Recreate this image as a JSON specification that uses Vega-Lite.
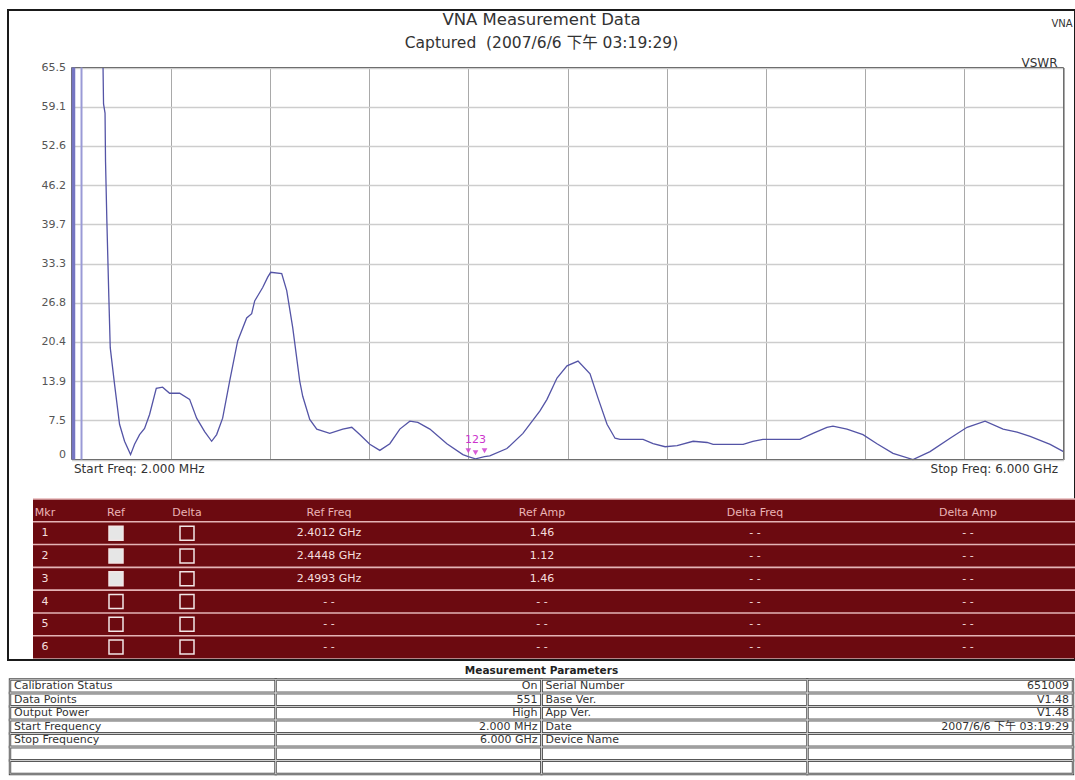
{
  "$schema": "https://vega.github.io/schema/vega-lite/v6.json",
  "width": 1067,
  "height": 650,
  "autosize": {"type": "none"},
  "padding": {"left": 8, "top": 10, "right": 0, "bottom": 120},
  "background": "white",
  "config": {
    "view": {"stroke": "#1a1a1a", "strokeWidth": 2},
    "font": "DejaVu Sans"
  },
  "title": {
    "text": "VNA Measurement Data",
    "subtitle": "Captured\u00a0 (2007/6/6 下午 03:19:29)",
    "anchor": "middle",
    "frame": "group",
    "offset": -41.5,
    "font": "DejaVu Sans",
    "fontSize": 16.5,
    "fontWeight": "normal",
    "color": "#333333",
    "subtitleFont": "DejaVu Sans, Noto Sans CJK TC",
    "subtitleFontSize": 15.5,
    "subtitleColor": "#333333",
    "subtitlePadding": 7.2
  },
  "datasets": {
    "curve": [
      {"f": 0.1927, "v": 65.5}, {"f": 0.1957, "v": 59.5}, {"f": 0.2048, "v": 58.0}, {"f": 0.2078, "v": 50.0},
      {"f": 0.2157, "v": 40.4}, {"f": 0.2278, "v": 27.7}, {"f": 0.2362, "v": 19.4}, {"f": 0.2622, "v": 13.4},
      {"f": 0.2925, "v": 6.8}, {"f": 0.3228, "v": 4.0}, {"f": 0.3591, "v": 1.8}, {"f": 0.3833, "v": 3.5},
      {"f": 0.4136, "v": 5.1}, {"f": 0.4438, "v": 6.1}, {"f": 0.4741, "v": 8.4}, {"f": 0.5146, "v": 12.7},
      {"f": 0.5528, "v": 12.9}, {"f": 0.5952, "v": 11.9}, {"f": 0.6557, "v": 11.9}, {"f": 0.7162, "v": 10.9},
      {"f": 0.7586, "v": 7.8}, {"f": 0.807, "v": 5.6}, {"f": 0.8494, "v": 4.0}, {"f": 0.8796, "v": 5.1},
      {"f": 0.9159, "v": 7.8}, {"f": 0.9583, "v": 13.9}, {"f": 1.0067, "v": 20.5}, {"f": 1.0612, "v": 24.3},
      {"f": 1.0914, "v": 25.0}, {"f": 1.1096, "v": 27.1}, {"f": 1.158, "v": 29.3}, {"f": 1.1883, "v": 31.0},
      {"f": 1.2064, "v": 31.8}, {"f": 1.273, "v": 31.6}, {"f": 1.3033, "v": 28.8}, {"f": 1.3396, "v": 22.7},
      {"f": 1.382, "v": 13.9}, {"f": 1.4001, "v": 11.4}, {"f": 1.4425, "v": 7.6}, {"f": 1.4849, "v": 6.0},
      {"f": 1.5635, "v": 5.3}, {"f": 1.6422, "v": 6.0}, {"f": 1.6967, "v": 6.3}, {"f": 1.7451, "v": 5.1},
      {"f": 1.8056, "v": 3.5}, {"f": 1.8662, "v": 2.5}, {"f": 1.9267, "v": 3.6}, {"f": 1.9872, "v": 6.0},
      {"f": 2.0477, "v": 7.3}, {"f": 2.0962, "v": 7.1}, {"f": 2.1688, "v": 6.0}, {"f": 2.2717, "v": 3.6},
      {"f": 2.3685, "v": 1.8}, {"f": 2.4012, "v": 1.46}, {"f": 2.4448, "v": 1.12}, {"f": 2.4993, "v": 1.46},
      {"f": 2.531, "v": 1.6}, {"f": 2.6348, "v": 2.8}, {"f": 2.7316, "v": 5.3}, {"f": 2.8345, "v": 9.0},
      {"f": 2.877, "v": 10.9}, {"f": 2.9375, "v": 14.4}, {"f": 2.998, "v": 16.4}, {"f": 3.0646, "v": 17.2},
      {"f": 3.1372, "v": 15.1}, {"f": 3.1856, "v": 11.1}, {"f": 3.2401, "v": 6.8}, {"f": 3.2885, "v": 4.5},
      {"f": 3.3188, "v": 4.3}, {"f": 3.458, "v": 4.3}, {"f": 3.5185, "v": 3.6}, {"f": 3.5911, "v": 3.1},
      {"f": 3.6638, "v": 3.3}, {"f": 3.7606, "v": 4.0}, {"f": 3.8453, "v": 3.8}, {"f": 3.8817, "v": 3.5},
      {"f": 4.0632, "v": 3.5}, {"f": 4.1218, "v": 4.0}, {"f": 4.1823, "v": 4.3}, {"f": 4.4062, "v": 4.3},
      {"f": 4.4849, "v": 5.3}, {"f": 4.5696, "v": 6.3}, {"f": 4.6059, "v": 6.5}, {"f": 4.6907, "v": 6.0},
      {"f": 4.7875, "v": 5.1}, {"f": 4.8722, "v": 3.6}, {"f": 4.9691, "v": 2.0}, {"f": 5.0901, "v": 1.0},
      {"f": 5.193, "v": 2.3}, {"f": 5.3141, "v": 4.5}, {"f": 5.417, "v": 6.3}, {"f": 5.5259, "v": 7.3},
      {"f": 5.6349, "v": 6.0}, {"f": 5.7196, "v": 5.5}, {"f": 5.7983, "v": 4.8}, {"f": 5.9193, "v": 3.5},
      {"f": 6.0, "v": 2.3}
    ],
    "bands": [{"f": 0.0141}, {"f": 0.0625}],
    "markers": [
      {"f": 2.4012, "v": 1.46, "m": "1"},
      {"f": 2.4448, "v": 1.12, "m": "2"},
      {"f": 2.4993, "v": 1.46, "m": "3"}
    ],
    "mkrTable": [
      {"row": "h", "Mkr": "Mkr", "Ref": "Ref", "Delta": "Delta", "Ref Freq": "Ref Freq", "Ref Amp": "Ref Amp", "Delta Freq": "Delta Freq", "Delta Amp": "Delta Amp"},
      {"row": "1", "Mkr": "1", "Ref": "on", "Delta": "off", "Ref Freq": "2.4012 GHz", "Ref Amp": "1.46", "Delta Freq": "- -", "Delta Amp": "- -"},
      {"row": "2", "Mkr": "2", "Ref": "on", "Delta": "off", "Ref Freq": "2.4448 GHz", "Ref Amp": "1.12", "Delta Freq": "- -", "Delta Amp": "- -"},
      {"row": "3", "Mkr": "3", "Ref": "on", "Delta": "off", "Ref Freq": "2.4993 GHz", "Ref Amp": "1.46", "Delta Freq": "- -", "Delta Amp": "- -"},
      {"row": "4", "Mkr": "4", "Ref": "off", "Delta": "off", "Ref Freq": "- -", "Ref Amp": "- -", "Delta Freq": "- -", "Delta Amp": "- -"},
      {"row": "5", "Mkr": "5", "Ref": "off", "Delta": "off", "Ref Freq": "- -", "Ref Amp": "- -", "Delta Freq": "- -", "Delta Amp": "- -"},
      {"row": "6", "Mkr": "6", "Ref": "off", "Delta": "off", "Ref Freq": "- -", "Ref Amp": "- -", "Delta Freq": "- -", "Delta Amp": "- -"}
    ],
    "params": [
      {"r": "r1", "c1": "Calibration Status", "c2": "On", "c3": "Serial Number", "c4": "651009"},
      {"r": "r2", "c1": "Data Points", "c2": "551", "c3": "Base Ver.", "c4": "V1.48"},
      {"r": "r3", "c1": "Output Power", "c2": "High", "c3": "App Ver.", "c4": "V1.48"},
      {"r": "r4", "c1": "Start Frequency", "c2": "2.000 MHz", "c3": "Date", "c4": "2007/6/6 下午 03:19:29"},
      {"r": "r5", "c1": "Stop Frequency", "c2": "6.000 GHz", "c3": "Device Name", "c4": ""},
      {"r": "r6", "c1": "", "c2": "", "c3": "", "c4": ""},
      {"r": "r7", "c1": "", "c2": "", "c3": "", "c4": ""}
    ]
  },
  "resolve": {"scale": {"x": "independent", "y": "independent"}, "axis": {"x": "independent", "y": "independent"}},
  "layer": [
    {
      "data": {"name": "curve"},
      "mark": {"type": "line", "color": "#5454a6", "strokeWidth": 1.3},
      "encoding": {
        "x": {
          "field": "f", "type": "quantitative",
          "scale": {"type": "linear", "domain": [0.002, 6], "range": [63.5, 1055.5], "nice": false, "zero": false},
          "axis": {
            "orient": "top",
            "values": [0.002, 0.6018, 1.2016, 1.8014, 2.4012, 3.001, 3.6008, 4.2006, 4.8004, 5.4002, 6],
            "offset": -458.5,
            "grid": true, "gridColor": "#a9a9a9", "gridWidth": 1,
            "domain": false, "ticks": false,
            "labelExpr": "datum.value < 0.1 ? 'Start Freq: 2.000 MHz' : (datum.value > 5.9 ? 'Stop Freq: 6.000 GHz' : '')",
            "labelAlign": {"condition": {"test": "datum.value < 0.1", "value": "left"}, "value": "right"},
            "labelOffset": {"condition": [{"test": "datum.value > 5.9", "value": -6}, {"test": "datum.value < 0.1", "value": 2}], "value": 0},
            "labelBaseline": "middle",
            "labelPadding": 0, "labelFont": "DejaVu Sans", "labelFontSize": 12, "labelColor": "#333333",
            "labelOverlap": false, "labelBound": false, "labelFlush": false,
            "title": "VNA", "titleX": 1043, "titleY": -442.5, "titleAlign": "left", "titleBaseline": "alphabetic",
            "titleAngle": 0, "titleFont": "DejaVu Sans", "titleFontSize": 10, "titleFontWeight": "normal", "titleColor": "#333333"
          }
        },
        "y": {
          "field": "v", "type": "quantitative",
          "scale": {"type": "linear", "domain": [1, 65.5], "range": [449.5, 57.5], "nice": false, "zero": false},
          "axis": {
            "values": [1, 7.45, 13.9, 20.35, 26.8, 33.25, 39.7, 46.15, 52.6, 59.05, 65.5],
            "offset": -63.5,
            "grid": true, "gridColor": "#cdcdcd", "gridWidth": 1.5,
            "domain": false, "ticks": false,
            "labelExpr": "datum.value < 2 ? '0' : format(datum.value + 0.0001, '.1f')",
            "labelBaseline": {"condition": {"test": "datum.value < 2", "value": "bottom"}, "value": "middle"},
            "labelPadding": 6, "labelFont": "DejaVu Sans", "labelFontSize": 11, "labelColor": "#555555",
            "labelOverlap": false, "labelBound": false, "labelFlush": false,
            "title": "VSWR", "titleX": 985.5, "titleY": 56, "titleAlign": "right", "titleBaseline": "alphabetic",
            "titleAngle": 0, "titleFont": "DejaVu Sans", "titleFontSize": 12, "titleFontWeight": "normal", "titleColor": "#333333"
          }
        }
      }
    },
    {
      "data": {"values": [{}]},
      "mark": {"type": "rect", "fillOpacity": 0, "stroke": "#6e6e6e", "strokeWidth": 1},
      "encoding": {
        "x": {"datum": 0.002, "type": "quantitative", "scale": {"type": "linear", "domain": [0.002, 6], "range": [63.5, 1055.5], "nice": false, "zero": false}, "axis": null},
        "x2": {"datum": 6},
        "y": {"datum": 1, "type": "quantitative", "scale": {"type": "linear", "domain": [1, 65.5], "range": [449.5, 57.5], "nice": false, "zero": false}, "axis": null},
        "y2": {"datum": 65.5}
      }
    },
    {
      "data": {"name": "bands"},
      "mark": {"type": "rule"},
      "encoding": {
        "x": {"field": "f", "type": "quantitative", "scale": {"type": "linear", "domain": [0.002, 6], "range": [63.5, 1055.5], "nice": false, "zero": false}, "axis": null},
        "y": {"datum": 1, "type": "quantitative", "scale": {"type": "linear", "domain": [1, 65.5], "range": [449.5, 57.5], "nice": false, "zero": false}, "axis": null},
        "y2": {"datum": 65.5},
        "color": {"condition": {"test": "datum.f < 0.03", "value": "#7676c2"}, "value": "#9a9ad6"},
        "strokeWidth": {"condition": {"test": "datum.f < 0.03", "value": 3.5}, "value": 2}
      }
    },
    {
      "data": {"name": "markers"},
      "mark": {"type": "point", "shape": "triangle-down", "size": 32, "filled": true, "color": "#d040d0", "opacity": 0.85, "yOffset": -6},
      "encoding": {
        "x": {"field": "f", "type": "quantitative", "scale": {"type": "linear", "domain": [0.002, 6], "range": [63.5, 1055.5], "nice": false, "zero": false}, "axis": null},
        "y": {"field": "v", "type": "quantitative", "scale": {"type": "linear", "domain": [1, 65.5], "range": [449.5, 57.5], "nice": false, "zero": false}, "axis": null}
      }
    },
    {
      "data": {"values": [{"f": 2.4448, "v": 1.12, "label": "123"}]},
      "mark": {"type": "text", "dy": -19, "color": "#cc33cc", "fontSize": 11, "font": "DejaVu Sans"},
      "encoding": {
        "x": {"field": "f", "type": "quantitative", "scale": {"type": "linear", "domain": [0.002, 6], "range": [63.5, 1055.5], "nice": false, "zero": false}, "axis": null},
        "y": {"field": "v", "type": "quantitative", "scale": {"type": "linear", "domain": [1, 65.5], "range": [449.5, 57.5], "nice": false, "zero": false}, "axis": null},
        "text": {"field": "label"}
      }
    },
    {
      "data": {"name": "mkrTable"},
      "mark": {"type": "rect", "color": "#6c0a10"},
      "encoding": {
        "x": {"datum": 0, "type": "quantitative", "scale": {"type": "linear", "domain": [0, 1], "range": [25, 1067], "nice": false, "zero": false}, "axis": null},
        "x2": {"datum": 1},
        "y": {"field": "row", "type": "nominal", "scale": {"type": "band", "domain": ["h", "1", "2", "3", "4", "5", "6"], "range": [489, 648.5], "paddingInner": 0, "paddingOuter": 0}, "axis": null}
      }
    },
    {
      "data": {"name": "mkrTable"},
      "mark": {"type": "rule", "color": "#e4b4b6", "strokeWidth": 1.6},
      "encoding": {
        "x": {"datum": 0, "type": "quantitative", "scale": {"type": "linear", "domain": [0, 1], "range": [25, 1067], "nice": false, "zero": false}, "axis": null},
        "x2": {"datum": 1},
        "y": {"field": "row", "type": "nominal", "bandPosition": 0, "scale": {"type": "band", "domain": ["h", "1", "2", "3", "4", "5", "6"], "range": [489, 648.5], "paddingInner": 0, "paddingOuter": 0}, "axis": null}
      }
    },
    {
      "data": {"name": "mkrTable"},
      "transform": [
        {"fold": ["Mkr", "Ref Freq", "Ref Amp", "Delta Freq", "Delta Amp"], "as": ["col", "t"]},
        {"filter": "datum.row !== 'h'"}
      ],
      "mark": {"type": "text", "fontSize": 11, "font": "DejaVu Sans", "color": "#f4dede"},
      "encoding": {
        "x": {"field": "col", "type": "nominal", "scale": {"type": "point", "domain": ["Mkr", "Ref", "Delta", "_a", "Ref Freq", "_b", "_c", "Ref Amp", "_d", "_e", "Delta Freq", "_f", "_g", "Delta Amp"], "range": [37, 960], "padding": 0}, "axis": null},
        "y": {"field": "row", "type": "nominal", "scale": {"type": "band", "domain": ["h", "1", "2", "3", "4", "5", "6"], "range": [489, 648.5], "paddingInner": 0, "paddingOuter": 0}, "axis": null},
        "text": {"field": "t"}
      }
    },
    {
      "data": {"name": "mkrTable"},
      "transform": [
        {"fold": ["Mkr", "Ref", "Delta", "Ref Freq", "Ref Amp", "Delta Freq", "Delta Amp"], "as": ["col", "t"]},
        {"filter": "datum.row === 'h'"}
      ],
      "mark": {"type": "text", "fontSize": 11, "font": "DejaVu Sans", "color": "#eab4b6", "dy": 3},
      "encoding": {
        "x": {"field": "col", "type": "nominal", "scale": {"type": "point", "domain": ["Mkr", "Ref", "Delta", "_a", "Ref Freq", "_b", "_c", "Ref Amp", "_d", "_e", "Delta Freq", "_f", "_g", "Delta Amp"], "range": [37, 960], "padding": 0}, "axis": null},
        "y": {"field": "row", "type": "nominal", "scale": {"type": "band", "domain": ["h", "1", "2", "3", "4", "5", "6"], "range": [489, 648.5], "paddingInner": 0, "paddingOuter": 0}, "axis": null},
        "text": {"field": "t"}
      }
    },
    {
      "data": {"name": "mkrTable"},
      "transform": [
        {"fold": ["Ref", "Delta"], "as": ["col", "state"]},
        {"filter": "datum.row !== 'h'"}
      ],
      "mark": {"type": "point", "shape": "square", "size": 196, "filled": true, "stroke": "#f2e6e6", "strokeWidth": 1.5, "opacity": 1},
      "encoding": {
        "x": {"field": "col", "type": "nominal", "scale": {"type": "point", "domain": ["Mkr", "Ref", "Delta", "_a", "Ref Freq", "_b", "_c", "Ref Amp", "_d", "_e", "Delta Freq", "_f", "_g", "Delta Amp"], "range": [37, 960], "padding": 0}, "axis": null},
        "y": {"field": "row", "type": "nominal", "scale": {"type": "band", "domain": ["h", "1", "2", "3", "4", "5", "6"], "range": [489, 648.5], "paddingInner": 0, "paddingOuter": 0}, "axis": null},
        "fill": {"condition": {"test": "datum.state === 'on'", "value": "#e6e6e6"}, "value": "#6c0a10"}
      }
    },
    {
      "data": {"name": "params"},
      "transform": [{"fold": ["c1", "c2", "c3", "c4"], "as": ["c", "t"]}],
      "mark": {"type": "rect", "fillOpacity": 0, "stroke": "#4d4d4d", "strokeWidth": 2.4},
      "encoding": {
        "x": {"field": "c", "type": "nominal", "scale": {"type": "band", "domain": ["c1", "c2", "c3", "c4"], "range": [2, 1065], "paddingInner": 0, "paddingOuter": 0}, "axis": null},
        "y": {"field": "r", "type": "nominal", "scale": {"type": "band", "domain": ["r0", "r1", "r2", "r3", "r4", "r5", "r6", "r7"], "range": [656, 764], "paddingInner": 0, "paddingOuter": 0}, "axis": null}
      }
    },
    {
      "data": {"name": "params"},
      "transform": [{"fold": ["c1", "c2", "c3", "c4"], "as": ["c", "t"]}],
      "mark": {"type": "rect", "fillOpacity": 0, "stroke": "#dcdcdc", "strokeWidth": 0.7},
      "encoding": {
        "x": {"field": "c", "type": "nominal", "scale": {"type": "band", "domain": ["c1", "c2", "c3", "c4"], "range": [2, 1065], "paddingInner": 0, "paddingOuter": 0}, "axis": null},
        "y": {"field": "r", "type": "nominal", "scale": {"type": "band", "domain": ["r0", "r1", "r2", "r3", "r4", "r5", "r6", "r7"], "range": [656, 764], "paddingInner": 0, "paddingOuter": 0}, "axis": null}
      }
    },
    {
      "data": {"name": "params"},
      "transform": [
        {"fold": ["c1", "c2", "c3", "c4"], "as": ["c", "t"]},
        {"filter": "datum.c === 'c1' || datum.c === 'c3'"}
      ],
      "mark": {"type": "text", "align": "left", "dx": 4, "fontSize": 11, "font": "DejaVu Sans", "color": "#333333"},
      "encoding": {
        "x": {"field": "c", "type": "nominal", "bandPosition": 0, "scale": {"type": "band", "domain": ["c1", "c2", "c3", "c4"], "range": [2, 1065], "paddingInner": 0, "paddingOuter": 0}, "axis": null},
        "y": {"field": "r", "type": "nominal", "scale": {"type": "band", "domain": ["r0", "r1", "r2", "r3", "r4", "r5", "r6", "r7"], "range": [656, 764], "paddingInner": 0, "paddingOuter": 0}, "axis": null},
        "text": {"field": "t"}
      }
    },
    {
      "data": {"name": "params"},
      "transform": [
        {"fold": ["c1", "c2", "c3", "c4"], "as": ["c", "t"]},
        {"filter": "datum.c === 'c2' || datum.c === 'c4'"}
      ],
      "mark": {"type": "text", "align": "right", "dx": -4, "fontSize": 11, "font": "DejaVu Sans, Noto Sans CJK TC", "color": "#333333"},
      "encoding": {
        "x": {"field": "c", "type": "nominal", "bandPosition": 1, "scale": {"type": "band", "domain": ["c1", "c2", "c3", "c4"], "range": [2, 1065], "paddingInner": 0, "paddingOuter": 0}, "axis": null},
        "y": {"field": "r", "type": "nominal", "scale": {"type": "band", "domain": ["r0", "r1", "r2", "r3", "r4", "r5", "r6", "r7"], "range": [656, 764], "paddingInner": 0, "paddingOuter": 0}, "axis": null},
        "text": {"field": "t"}
      }
    },
    {
      "data": {"values": [{"r": "r0", "c": "c2", "t": "Measurement Parameters"}]},
      "mark": {"type": "text", "dy": -2, "fontSize": 10.5, "fontWeight": "bold", "font": "DejaVu Sans", "color": "#222222"},
      "encoding": {
        "x": {"field": "c", "type": "nominal", "bandPosition": 1, "scale": {"type": "band", "domain": ["c1", "c2", "c3", "c4"], "range": [2, 1065], "paddingInner": 0, "paddingOuter": 0}, "axis": null},
        "y": {"field": "r", "type": "nominal", "scale": {"type": "band", "domain": ["r0", "r1", "r2", "r3", "r4", "r5", "r6", "r7"], "range": [656, 764], "paddingInner": 0, "paddingOuter": 0}, "axis": null},
        "text": {"field": "t"}
      }
    }
  ]
}
